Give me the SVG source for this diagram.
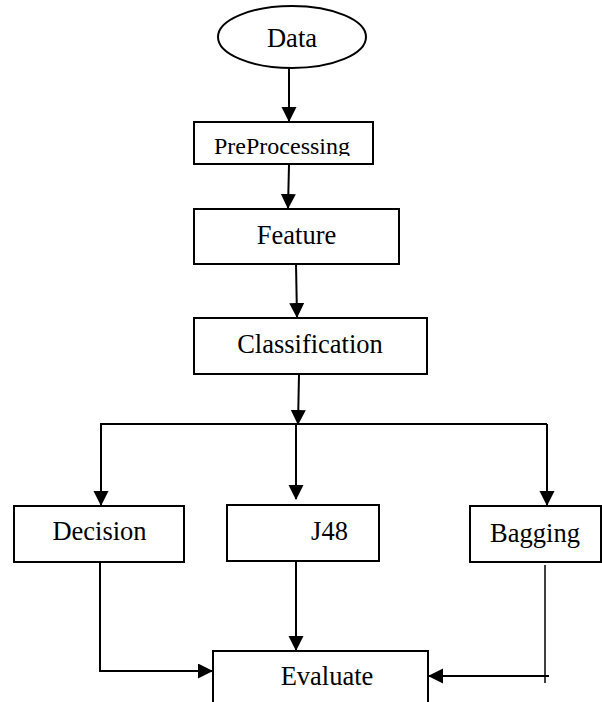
<svg xmlns="http://www.w3.org/2000/svg" width="602" height="702" viewBox="0 0 602 702">
<style>
.box{fill:#fff;stroke:#000;stroke-width:2}
.lbl{font-family:"Liberation Serif","Times New Roman",serif;font-size:26.5px;fill:#000;text-anchor:middle}
.con{fill:none;stroke:#000;stroke-width:2}
.thin{fill:none;stroke:#000;stroke-width:1.5}
</style>
<defs>
<marker id="ah" markerUnits="userSpaceOnUse" markerWidth="16" markerHeight="16" refX="14" refY="7.5" orient="auto">
<path d="M0,0 L15,7.5 L0,15 Z" fill="#000"/>
</marker>
<clipPath id="ppclip"><rect x="194" y="122" width="180" height="34"/></clipPath>
</defs>
<rect width="602" height="702" fill="#fff"/>
<g id="connectors">
<line class="con" x1="289" y1="68" x2="289" y2="121" marker-end="url(#ah)"/>
<line class="con" x1="289" y1="165" x2="288" y2="208" marker-end="url(#ah)"/>
<line class="con" x1="296" y1="264" x2="297" y2="317" marker-end="url(#ah)"/>
<line class="con" x1="299" y1="375" x2="298" y2="424" marker-end="url(#ah)"/>
<line class="con" x1="100" y1="424" x2="547" y2="424"/>
<line class="con" x1="101" y1="424" x2="101" y2="505" marker-end="url(#ah)"/>
<line class="con" x1="296" y1="424" x2="296" y2="499" marker-end="url(#ah)"/>
<line class="con" x1="547" y1="424" x2="547" y2="505" marker-end="url(#ah)"/>
<path class="con" d="M100,562 V671 H212" marker-end="url(#ah)"/>
<line class="con" x1="296" y1="561" x2="296" y2="650" marker-end="url(#ah)"/>
<line class="thin" x1="545" y1="565" x2="545" y2="683"/>
<line class="con" x1="549" y1="676" x2="429" y2="676" marker-end="url(#ah)"/>
</g>
<g id="data">
<ellipse cx="292" cy="37" rx="74" ry="31" class="box"/>
<text class="lbl" x="292" y="47">Data</text>
</g>
<g id="preprocessing">
<rect class="box" x="194" y="122" width="179" height="42"/>
<text class="lbl" x="282" y="154" style="font-size:24px" clip-path="url(#ppclip)">PreProcessing</text>
</g>
<g id="feature">
<rect class="box" x="194" y="209" width="205" height="55"/>
<text class="lbl" x="296.5" y="244">Feature</text>
</g>
<g id="classification">
<rect class="box" x="194" y="318" width="233" height="56"/>
<text class="lbl" x="310" y="353">Classification</text>
</g>
<g id="decision">
<rect class="box" x="14" y="506" width="170" height="56"/>
<text class="lbl" x="99.5" y="540">Decision</text>
</g>
<g id="j48">
<rect class="box" x="227" y="505" width="152" height="56"/>
<text class="lbl" x="329.5" y="540">J48</text>
</g>
<g id="bagging">
<rect class="box" x="470" y="506" width="131" height="56"/>
<text class="lbl" x="535" y="542">Bagging</text>
</g>
<g id="evaluate">
<rect class="box" x="213" y="651" width="215" height="55"/>
<text class="lbl" x="327" y="685">Evaluate</text>
</g>
</svg>
